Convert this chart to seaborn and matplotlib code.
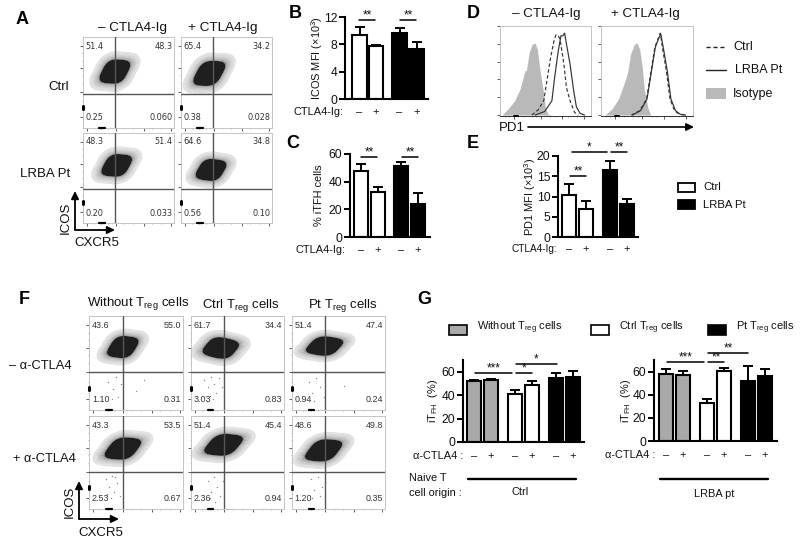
import matplotlib
matplotlib.use('Agg')
import matplotlib.pyplot as plt
from matplotlib.colors import LinearSegmentedColormap
from matplotlib.patches import Rectangle
from matplotlib.ticker import FixedLocator
import seaborn as sns
import numpy as np

sns.set_style('white')
plt.rcParams['font.family'] = ['Liberation Sans', 'DejaVu Sans']
plt.rcParams['mathtext.fontset'] = 'custom'
plt.rcParams['mathtext.rm'] = 'Liberation Sans'
plt.rcParams['mathtext.default'] = 'regular'

# flow cytometry clouds, control points (% of panel)
a11_x = [23, 29, 35, 41, 47, 30.5, 39.5, 32.8, 37.2]
a11_y = [55, 58.5, 62, 65.5, 69, 70.5, 53.5, 66, 58]
a12_x = [18.5, 25, 31, 37.5, 43.5, 26.5, 35.5, 29, 33]
a12_y = [52.5, 56, 60, 64, 67.5, 68.5, 51.5, 64, 56]
a21_x = [25, 31, 37, 43, 49, 32.5, 41.5, 35, 39]
a21_y = [57.5, 61, 64, 67, 70.5, 72, 56, 68, 60]
a22_x = [21, 27, 33, 39, 45, 28.5, 37.5, 31, 35]
a22_y = [53.5, 56, 59, 62, 64.5, 67, 51, 63, 55]
f11_x = [24, 30, 36, 42, 48, 32, 40, 34, 38]
f11_y = [61.5, 64, 67, 70, 72.5, 74.5, 59.5, 71, 63]
f12_x = [18, 25, 32, 39, 46, 27.5, 36.5, 30, 34]
f12_y = [62.5, 64, 66, 68, 69.5, 74, 58, 70, 62]
f13_x = [20.5, 28, 35, 42, 49.5, 31, 39, 33, 37]
f13_y = [64, 66, 68, 70, 72, 75, 61, 71.5, 64.5]
f21_x = [22, 29, 36, 43, 50, 32, 40, 34, 38]
f21_y = [59, 62, 65, 68, 71, 72.5, 57.5, 69, 61]
f22_x = [20, 27.5, 35, 42.5, 50, 31, 39, 33, 37]
f22_y = [63.5, 66, 69, 72, 74.5, 76.5, 61.5, 73, 65]
f23_x = [19.5, 27, 34, 41, 48.5, 30, 38, 32, 36]
f23_y = [57, 60, 63, 66, 69, 70.5, 55.5, 67, 59]

# stray events in lower gates of panel F
f11_dots_x = [20, 26, 29, 31, 24, 34, 50, 58]
f11_dots_y = [30, 22, 35, 14, 12, 28, 20, 32]
f12_dots_x = [14, 18, 20, 22, 25, 27, 30, 17, 24, 33]
f12_dots_y = [32, 24, 15, 35, 28, 18, 34, 10, 12, 25]
f13_dots_x = [18, 22, 26, 30, 34, 24, 56]
f13_dots_y = [30, 18, 34, 24, 14, 10, 26]
f21_dots_x = [18, 21, 24, 27, 30, 33, 23, 28, 19]
f21_dots_y = [32, 24, 36, 18, 28, 14, 12, 34, 16]
f22_dots_x = [18, 22, 25, 28, 31, 20, 26, 34]
f22_dots_y = [30, 18, 34, 24, 14, 12, 8, 30]
f23_dots_x = [20, 24, 28, 32, 22, 30, 36]
f23_dots_y = [32, 20, 34, 24, 12, 14, 28]

# gate percentages: upper left, upper right, lower left, lower right
a11_gates = ['51.4', '48.3', '0.25', '0.060']
a12_gates = ['65.4', '34.2', '0.38', '0.028']
a21_gates = ['48.3', '51.4', '0.20', '0.033']
a22_gates = ['64.6', '34.8', '0.56', '0.10']
f11_gates = ['43.6', '55.0', '1.10', '0.31']
f12_gates = ['61.7', '34.4', '3.03', '0.83']
f13_gates = ['51.4', '47.4', '0.94', '0.24']
f21_gates = ['43.3', '53.5', '2.53', '0.67']
f22_gates = ['51.4', '45.4', '2.36', '0.94']
f23_gates = ['48.6', '49.8', '1.20', '0.35']

# bar values and upper error lengths
b_vals = [9.4, 7.7, 9.7, 7.3]
b_errs = [1.2, 0.2, 0.7, 1.0]
c_vals = [48, 32.5, 51, 24]
c_errs = [4.5, 3.5, 3.5, 7.5]
e_vals = [10.4, 6.9, 16.6, 8.2]
e_errs = [2.8, 1.9, 2.2, 1.3]
g1_vals = [52.5, 53, 41, 48.5, 55, 55.5]
g1_errs = [0.5, 0.5, 3.5, 3.5, 4, 5]
g2_vals = [57.5, 57, 32.5, 60.5, 52, 56]
g2_errs = [4.5, 3.5, 3.5, 3, 13, 6]
signs4 = ['–', '+', '–', '+']
signs6 = ['–', '+', '–', '+', '–', '+']

# PD1 histograms (% of panel)
d1_iso_x = [2, 9, 16, 22, 26, 27.5, 29, 32, 35, 38.5, 41, 44, 48, 50, 53, 57]
d1_iso_y = [0, 7, 16, 29, 44, 50, 50, 70, 79, 81, 74, 50, 24, 7, 1, 0]
d1_pt_x = [38.5, 49, 57, 60, 64, 67, 69, 71, 73, 77, 81, 84, 88, 93]
d1_pt_y = [0, 4, 16, 42, 72, 89, 89, 92, 80, 57, 27, 9, 2, 0]
d1_ctrl_x = [35, 42, 48, 51, 55, 59, 61.5, 64, 66, 70, 73, 77, 82, 86]
d1_ctrl_y = [0, 6, 16, 35, 61, 82, 90, 89, 85, 59, 31, 16, 3, 0]
d2_iso_x = [4, 12, 19, 25, 29, 32, 36, 39, 42, 45, 47, 51, 54]
d2_iso_y = [0, 7, 18, 35, 48, 68, 79, 81, 74, 53, 29, 8, 0]
d2_pt_x = [34, 43, 50, 55, 59, 63, 65, 68, 72, 76, 81, 86, 92]
d2_pt_y = [0, 5, 18, 50, 76, 87, 91, 74, 50, 18, 5, 1, 0]
d2_ctrl_x = [33, 42, 49.5, 54.5, 58.5, 62.5, 64.5, 67, 71, 75, 80, 85, 91]
d2_ctrl_y = [0, 5, 18, 50, 76, 87, 92, 74, 50, 18, 5, 1, 0]

W, H = 800, 546
GRAY = '#a9a9a9'
WHITE = 'white'
BLACK = 'black'
cloud_cmap = LinearSegmentedColormap.from_list('cloud', ['#e2e2e2', '#8a8a8a', '#333333', '#0c0c0c', '#000000'])
cloud_levels = [0.015, 0.025, 0.035, 0.05, 0.065, 0.085, 0.11, 0.135, 0.165, 0.2, 0.25, 1]

fig = plt.figure(figsize=(W / 100, H / 100), dpi=100)

# overlay in pixel coordinates for labels and brackets
page = fig.add_axes([0, 0, 1, 1], zorder=20)
page.set_xlim(0, W)
page.set_ylim(H, 0)
page.axis('off')
page.patch.set_alpha(0)


def px_axes(left, top, right, bottom):
    return fig.add_axes([left / W, 1 - bottom / H, (right - left) / W, (bottom - top) / H])


def say(x, y, s, size=9.5, ha='center', **kw):
    page.text(x, y, s, fontsize=size, ha=ha, va='center', color=kw.pop('color', '#111111'), **kw)


def flow(left, top, right, bottom, xs, ys, gates, vline, hline, dots=None, font='Liberation Sans', gate_size=6.4):
    ax = px_axes(left, top, right, bottom)
    sns.kdeplot(x=xs, y=ys, fill=True, levels=cloud_levels, cmap=cloud_cmap,
                bw_method=1.0, gridsize=120, cut=6, antialiased=True, ax=ax)
    if dots is not None:
        sns.scatterplot(x=dots[0], y=dots[1], s=1, color='#888888', linewidth=0, ax=ax)
    ax.axvline(vline, color='#555555', lw=1, zorder=5)
    ax.axhline(hline, color='#555555', lw=1, zorder=5)
    ax.set_xlim(0, 100)
    ax.set_ylim(0, 100)
    for sp in ax.spines.values():
        sp.set_color('#c4c4c4')
        sp.set_linewidth(0.7)
    ax.xaxis.set_major_locator(FixedLocator([4, 36, 67, 97]))
    ax.yaxis.set_major_locator(FixedLocator([12, 40, 66, 90]))
    ax.xaxis.set_minor_locator(FixedLocator([12, 20, 28, 45, 55, 76, 86]))
    ax.yaxis.set_minor_locator(FixedLocator([20, 30, 50, 58, 74, 82]))
    ax.tick_params(which='major', left=True, bottom=True, length=2, width=0.6, color='#444444', labelleft=False, labelbottom=False, pad=0)
    ax.tick_params(which='minor', left=True, bottom=True, length=1, width=0.4, color='#666666')
    ax.set_xlabel('')
    ax.set_ylabel('')
    ax.plot([18, 24], [0, 0], color='black', lw=1.6, clip_on=False, zorder=6)
    ax.plot([0, 0], [21, 24.5], color='black', lw=2.2, clip_on=False, zorder=6)
    style = dict(fontsize=gate_size, color='#333333', family=font, va='center')
    ax.text(3, 90, gates[0], ha='left', **style)
    ax.text(98, 90, gates[1], ha='right', **style)
    ax.text(3, 11, gates[2], ha='left', **style)
    ax.text(98, 11, gates[3], ha='right', **style)


def bars(left, top, right, bottom, centers, vals, errs, colors, ymax, yticks, ylabel, label_x, signs, sign_y):
    ax = px_axes(left, top, right, bottom)
    # slots in units of one bar step, so seaborn keeps the group gaps
    step = (centers[1] - centers[0])
    slots = [(c - centers[0]) / step for c in centers]
    sns.barplot(x=slots, y=vals, native_scale=True, width=0.86, color='white', edgecolor='black',
                linewidth=1.5, errorbar=None, ax=ax)
    for patch, c in zip(ax.patches, colors):
        patch.set_facecolor(c)
    ax.errorbar(slots, vals, yerr=[np.zeros(len(errs)), errs], fmt='none', ecolor='black',
                elinewidth=1.4, capsize=3.6, capthick=1.4)
    ax.set_xlim((left - centers[0]) / step, (right - centers[0]) / step)
    ax.set_ylim(0, ymax)
    ax.set_yticks(yticks)
    ax.set_xticks([])
    ax.tick_params(axis='y', left=True, length=4, width=1.4, color='black', labelsize=8.7, pad=1.5, labelcolor='#111111')
    sns.despine(ax=ax)
    ax.spines['left'].set_linewidth(1.5)
    ax.spines['bottom'].set_linewidth(1.5)
    ax.spines['left'].set_color('black')
    ax.spines['bottom'].set_color('black')
    ax.patch.set_alpha(0)
    say(label_x, (top + bottom) / 2, ylabel, size=7.9, rotation=90)
    for c, s in zip(centers, signs):
        say(c, sign_y, s, size=8)


def bracket(x0, x1, y, stars):
    page.plot([x0, x1], [y, y], color='black', lw=1.1)
    page.text((x0 + x1) / 2, y + 1, stars, fontsize=8.5, ha='center', va='bottom', color='#111111')


def hist(left, top, right, bottom, iso_x, iso_y, pt_x, pt_y, ctrl_x, ctrl_y):
    ax = px_axes(left, top, right, bottom)
    ax.fill_between(iso_x, iso_y, 0, color='#b9b9b9', lw=0)
    sns.lineplot(x=pt_x, y=pt_y, color='#333333', lw=0.85, sort=False, estimator=None, ax=ax)
    sns.lineplot(x=ctrl_x, y=ctrl_y, color='#333333', lw=0.85, ls=(0, (3, 2)), sort=False, estimator=None, ax=ax)
    ax.set_xlim(0, 100)
    ax.set_ylim(-1, 100)
    for sp in ax.spines.values():
        sp.set_color('#c4c4c4')
        sp.set_linewidth(0.7)
    ax.spines['bottom'].set_color('#333333')
    ax.xaxis.set_major_locator(FixedLocator([15, 45, 68, 92]))
    ax.xaxis.set_minor_locator(FixedLocator([5, 10, 20, 25, 35, 40, 55, 60, 75, 85]))
    ax.yaxis.set_major_locator(FixedLocator([0, 20, 40, 60, 80, 100]))
    ax.tick_params(which='major', left=True, bottom=True, length=2, width=0.6, color='#444444', labelleft=False, labelbottom=False)
    ax.tick_params(which='minor', bottom=True, length=1, width=0.4, color='#666666')
    ax.set_xlabel('')
    ax.set_ylabel('')
    ax.plot([15, 20], [-1, -1], color='black', lw=1.4, clip_on=False, zorder=6)


def arrow(x0, y0, x1, y1, lw=1.3):
    page.annotate('', xy=(x1, y1), xytext=(x0, y0),
                  arrowprops=dict(arrowstyle='-|>,head_width=0.22,head_length=0.45', color='black', lw=lw, shrinkA=0, shrinkB=0))


# panel A
flow(83, 37, 174, 128, a11_x, a11_y, a11_gates, 35, 37, font='DejaVu Sans', gate_size=5.9)
flow(181, 37, 272, 128, a12_x, a12_y, a12_gates, 35, 37, font='DejaVu Sans', gate_size=5.9)
flow(83, 133, 174, 223, a21_x, a21_y, a21_gates, 35, 38, font='DejaVu Sans', gate_size=5.9)
flow(181, 133, 272, 223, a22_x, a22_y, a22_gates, 35, 38, font='DejaVu Sans', gate_size=5.9)
say(133, 28, '– CTLA4-Ig', size=9.7)
say(223, 28, '+ CTLA4-Ig', size=9.7)
say(69, 87, 'Ctrl', ha='right')
say(70, 174, 'LRBA Pt', ha='right')
arrow(75, 230, 75, 191)
arrow(75, 230, 115, 230)
say(66, 218, 'ICOS', rotation=90)
say(97, 243, 'CXCR5')

# panels B, C, E
bars(345, 17, 428, 99, [359.5, 376, 399.5, 416.5], b_vals, b_errs, [WHITE, WHITE, BLACK, BLACK], 12, [0, 4, 8, 12],
     'ICOS MFI (×10$^{3}$)', 317, signs4, 112)
say(343, 112, 'CTLA4-Ig:', size=7.9, ha='right')
bracket(359, 375, 20, '**')
bracket(400, 416, 20, '**')

bars(350, 154, 430, 237, [361, 378, 401, 418], c_vals, c_errs, [WHITE, WHITE, BLACK, BLACK], 60, [0, 20, 40, 60],
     '% iTFH cells', 319, signs4, 250)
say(345, 250, 'CTLA4-Ig:', size=7.9, ha='right')
bracket(361, 377, 157, '**')
bracket(402, 418, 157, '**')

bars(558, 156, 638, 237, [569, 586, 610, 627], e_vals, e_errs, [WHITE, WHITE, BLACK, BLACK], 20, [0, 5, 10, 15, 20],
     'PD1 MFI (×10$^{3}$)', 530, signs4, 249)
say(557, 249, 'CTLA4-Ig:', size=7.2, ha='right')
bracket(570, 586, 176, '**')
bracket(572, 607, 152, '*')
bracket(611, 627, 152, '**')
page.add_patch(Rectangle((678, 183), 17, 9, fc='white', ec='black', lw=1.3))
page.add_patch(Rectangle((678, 200), 17, 9, fc='black', ec='black', lw=1.3))
say(703, 187, 'Ctrl', size=8.2, ha='left')
say(703, 205, 'LRBA Pt', size=8.2, ha='left')

# panel D
hist(500, 26, 591, 116, d1_iso_x, d1_iso_y, d1_pt_x, d1_pt_y, d1_ctrl_x, d1_ctrl_y)
hist(601, 26, 693, 116, d2_iso_x, d2_iso_y, d2_pt_x, d2_pt_y, d2_ctrl_x, d2_ctrl_y)
say(546, 14, '– CTLA4-Ig', size=9.6)
say(645, 14, '+ CTLA4-Ig', size=9.6)
page.plot([706, 726], [47, 47], color='#222222', lw=1, ls=(0, (3, 2)))
page.plot([706, 726], [70, 70], color='#222222', lw=1)
page.add_patch(Rectangle((706, 88), 20, 11, fc='#b9b9b9', ec='none'))
say(733, 47, 'Ctrl', size=9, ha='left')
say(735, 70, 'LRBA Pt', size=9, ha='left')
say(733, 94, 'Isotype', size=9, ha='left')
say(512, 128, 'PD1', size=9.5)
arrow(528, 127, 694, 127, lw=1.2)

# panel F
flow(89, 316, 183, 410, f11_x, f11_y, f11_gates, 36, 40, (f11_dots_x, f11_dots_y))
flow(191, 316, 284, 410, f12_x, f12_y, f12_gates, 36, 40, (f12_dots_x, f12_dots_y))
flow(292, 316, 385, 410, f13_x, f13_y, f13_gates, 36, 40, (f13_dots_x, f13_dots_y))
flow(89, 416, 183, 509, f21_x, f21_y, f21_gates, 36, 40, (f21_dots_x, f21_dots_y))
flow(191, 416, 284, 509, f22_x, f22_y, f22_gates, 36, 40, (f22_dots_x, f22_dots_y))
flow(292, 416, 385, 509, f23_x, f23_y, f23_gates, 36, 40, (f23_dots_x, f23_dots_y))
say(138, 304, 'Without T$_{reg}$ cells', size=9.5)
say(241, 305, 'Ctrl T$_{reg}$ cells', size=9.5)
say(343, 305, 'Pt T$_{reg}$ cells', size=9.5)
say(40, 366, '– α-CTLA4', size=9.3)
say(44, 459, '+ α-CTLA4', size=9.3)
arrow(79, 519, 79, 481)
arrow(79, 519, 119, 519)
say(70, 502, 'ICOS', rotation=90)
say(101, 533, 'CXCR5')

# panel G
g_colors = [GRAY, GRAY, WHITE, WHITE, BLACK, BLACK]
bars(463, 360, 584, 442, [474, 491, 515, 532, 556, 573], g1_vals, g1_errs, g_colors, 70, [0, 20, 40, 60],
     'iT$_{FH}$  (%)', 433, signs6, 456)
bars(654, 360, 777, 441, [666, 683, 707, 724, 748, 765], g2_vals, g2_errs, g_colors, 70, [0, 20, 40, 60],
     'iT$_{FH}$  (%)', 626, signs6, 455)
say(463, 456, 'α-CTLA4 :', size=7.9, ha='right')
say(655, 455, 'α-CTLA4 :', size=7.9, ha='right')
bracket(475, 512, 373, '***')
bracket(516, 532, 373, '*')
bracket(516, 557, 364, '*')
bracket(667, 704, 362, '***')
bracket(708, 724, 362, '**')
bracket(708, 748, 353, '**')
page.plot([468, 576], [479, 479], color='black', lw=1.7)
page.plot([660, 768], [479, 479], color='black', lw=1.7)
say(409, 478, 'Naive T', size=7.9, ha='left')
say(409, 493, 'cell origin :', size=7.9, ha='left')
say(520, 492, 'Ctrl', size=7.9)
say(714, 494, 'LRBA pt', size=7.9)
page.add_patch(Rectangle((449, 325), 18, 10, fc=GRAY, ec='black', lw=1.2))
page.add_patch(Rectangle((591, 325), 18, 10, fc='white', ec='black', lw=1.2))
page.add_patch(Rectangle((708, 325), 18, 10, fc='black', ec='black', lw=1.2))
say(477, 328, 'Without T$_{reg}$ cells', size=7.9, ha='left')
say(619, 328, 'Ctrl T$_{reg}$ cells', size=7.9, ha='left')
say(736, 328, 'Pt T$_{reg}$ cells', size=7.9, ha='left')

# panel letters
for x, y, s in [(22, 20, 'A'), (295, 14, 'B'), (293, 143, 'C'), (473, 14, 'D'), (473, 143, 'E'), (24, 300, 'F'), (424, 300, 'G')]:
    say(x, y, s, size=13, fontweight='bold', color='black')

fig.savefig('out.png', dpi=100, facecolor='white')
